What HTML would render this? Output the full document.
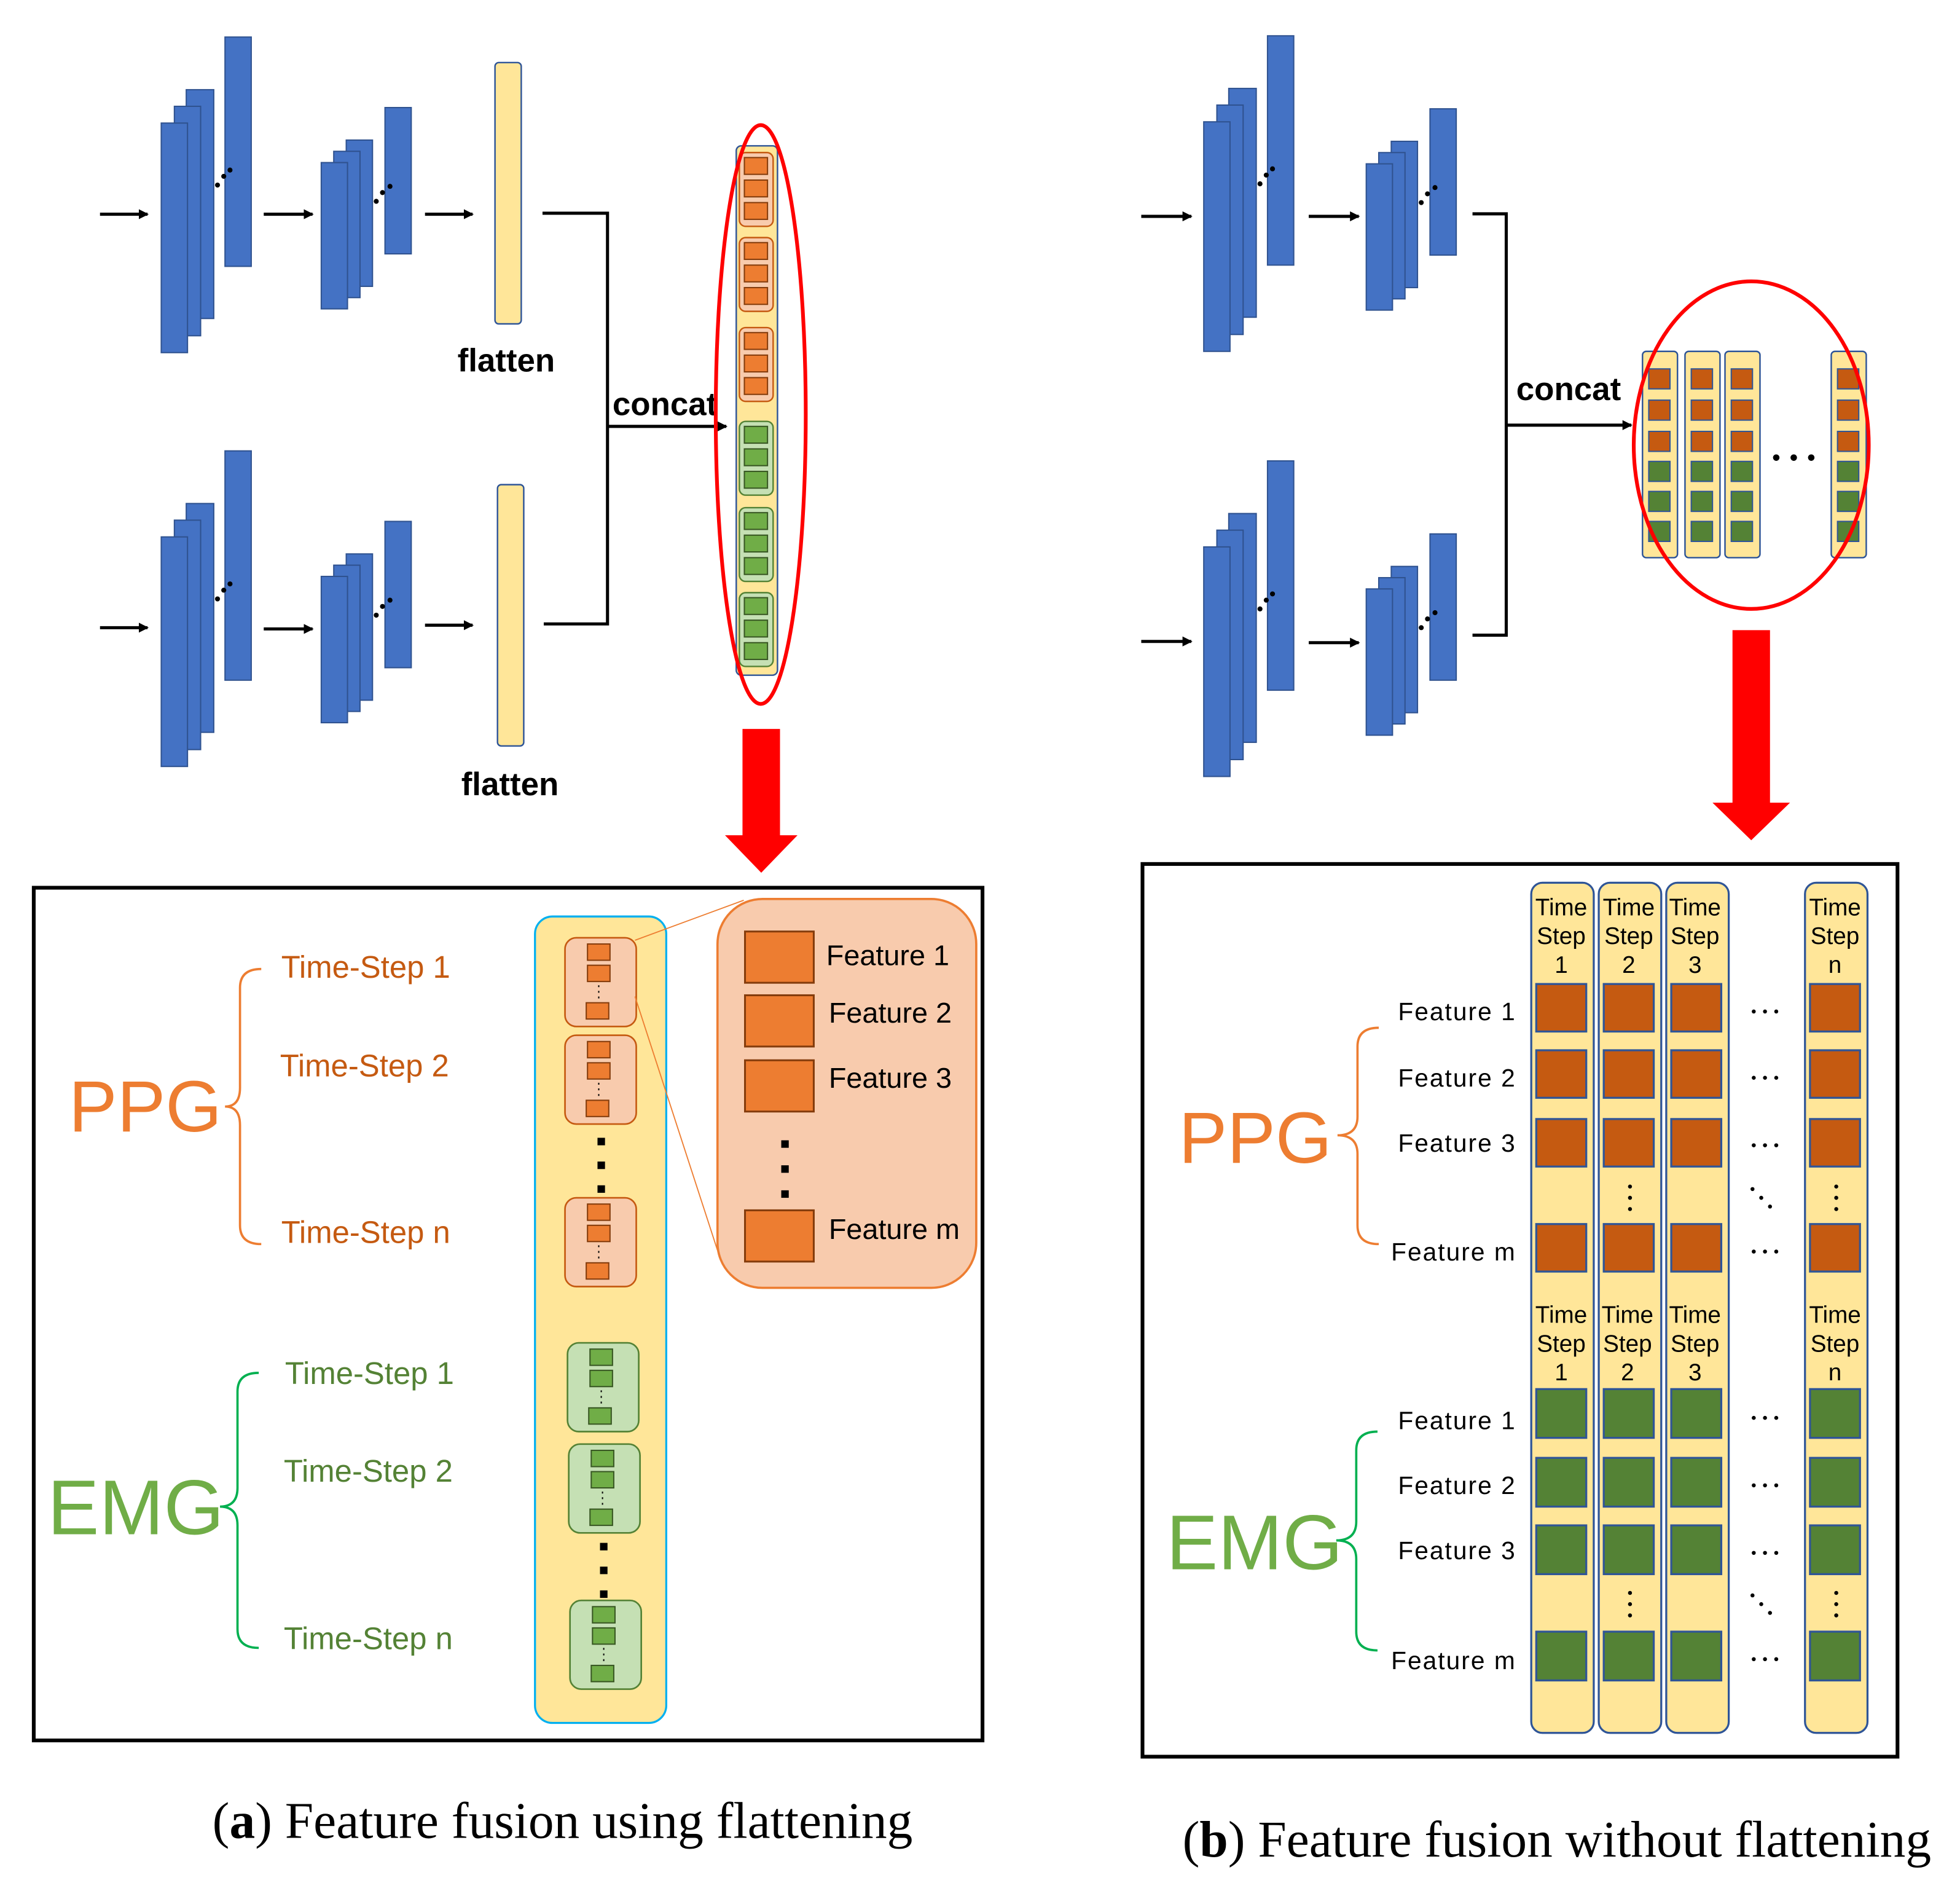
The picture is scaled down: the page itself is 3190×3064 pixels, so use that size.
<!DOCTYPE html>
<html><head><meta charset="utf-8"><style>
html,body{margin:0;padding:0;background:#fff;}
svg{display:block;}
text{font-family:"Liberation Sans",sans-serif;}
</style></head><body>
<svg width="3190" height="3064" viewBox="0 0 1568 1506" xmlns="http://www.w3.org/2000/svg">
<defs>
<marker id="ah" markerWidth="8" markerHeight="8" refX="7" refY="4" orient="auto" markerUnits="userSpaceOnUse"><path d="M0,0 L8,4 L0,8 z" fill="#000"/></marker>
<g id="cnnA">
<rect x="149" y="71.7" width="22" height="183" fill="#4472c4" stroke="#2f528f" stroke-width="1"/>
<rect x="139.5" y="85" width="21" height="183.5" fill="#4472c4" stroke="#2f528f" stroke-width="1"/>
<rect x="129" y="98.4" width="21" height="183.6" fill="#4472c4" stroke="#2f528f" stroke-width="1"/>
<rect x="180" y="29.6" width="21" height="183.4" fill="#4472c4" stroke="#2f528f" stroke-width="1"/>
<circle cx="174" cy="148" r="2"/><circle cx="179" cy="141" r="2"/><circle cx="184" cy="136" r="2"/>
</g>
<g id="cnnB">
<rect x="277" y="112" width="21" height="117" fill="#4472c4" stroke="#2f528f" stroke-width="1"/>
<rect x="267" y="121" width="21" height="117" fill="#4472c4" stroke="#2f528f" stroke-width="1"/>
<rect x="257" y="130" width="21" height="117" fill="#4472c4" stroke="#2f528f" stroke-width="1"/>
<rect x="308" y="86" width="21" height="117" fill="#4472c4" stroke="#2f528f" stroke-width="1"/>
<circle cx="301" cy="161" r="2"/><circle cx="306" cy="154" r="2"/><circle cx="312" cy="149" r="2"/>
</g>
<g id="og">
<rect x="591.5" y="0" width="27" height="59" rx="5" fill="#f8cbad" stroke="#c55a11" stroke-width="1.2"/>
<rect x="595.5" y="4" width="18.5" height="13.4" fill="#ed7d31" stroke="#843c0c" stroke-width="1"/>
<rect x="595.5" y="22" width="18.5" height="13.4" fill="#ed7d31" stroke="#843c0c" stroke-width="1"/>
<rect x="595.5" y="40" width="18.5" height="13.4" fill="#ed7d31" stroke="#843c0c" stroke-width="1"/>
</g>
<g id="gg">
<rect x="591.5" y="0" width="27" height="59" rx="5" fill="#c5e0b4" stroke="#548235" stroke-width="1.2"/>
<rect x="595.5" y="4" width="18.5" height="13.4" fill="#70ad47" stroke="#385723" stroke-width="1"/>
<rect x="595.5" y="22" width="18.5" height="13.4" fill="#70ad47" stroke="#385723" stroke-width="1"/>
<rect x="595.5" y="40" width="18.5" height="13.4" fill="#70ad47" stroke="#385723" stroke-width="1"/>
</g>
<g id="oga">
<rect x="0" y="0" width="57" height="71" rx="9" fill="#f8cbad" stroke="#c55a11" stroke-width="1.3"/>
<rect x="18" y="5" width="18" height="13" fill="#ed7d31" stroke="#843c0c" stroke-width="1"/>
<rect x="18" y="22" width="18" height="13" fill="#ed7d31" stroke="#843c0c" stroke-width="1"/>
<line x1="27" y1="38" x2="27" y2="50" stroke="#000" stroke-width="1" stroke-dasharray="1.5,3"/>
<rect x="17" y="52" width="18" height="13" fill="#ed7d31" stroke="#843c0c" stroke-width="1"/>
</g>
<g id="gga">
<rect x="0" y="0" width="57" height="71" rx="9" fill="#c5e0b4" stroke="#548235" stroke-width="1.3"/>
<rect x="18" y="5" width="18" height="13" fill="#70ad47" stroke="#385723" stroke-width="1"/>
<rect x="18" y="22" width="18" height="13" fill="#70ad47" stroke="#385723" stroke-width="1"/>
<line x1="27" y1="38" x2="27" y2="50" stroke="#000" stroke-width="1" stroke-dasharray="1.5,3"/>
<rect x="17" y="52" width="18" height="13" fill="#70ad47" stroke="#385723" stroke-width="1"/>
</g>
<g id="bcol">
<rect x="1314" y="281" width="28" height="165" rx="3" fill="#ffe699" stroke="#2f5597" stroke-width="1.2"/>
<rect x="1319" y="295" width="17" height="16" fill="#c55a11" stroke="#2f5597" stroke-width="1"/>
<rect x="1319" y="320" width="17" height="16" fill="#c55a11" stroke="#2f5597" stroke-width="1"/>
<rect x="1319" y="345" width="17" height="16" fill="#c55a11" stroke="#2f5597" stroke-width="1"/>
<rect x="1319" y="369" width="17" height="16" fill="#548235" stroke="#2f5597" stroke-width="1"/>
<rect x="1319" y="393" width="17" height="16" fill="#548235" stroke="#2f5597" stroke-width="1"/>
<rect x="1319" y="417" width="17" height="16" fill="#548235" stroke="#2f5597" stroke-width="1"/>
</g>
<g id="bigcol">
<rect x="1225" y="706" width="50" height="680" rx="9" fill="#ffe699" stroke="#2f5597" stroke-width="1.6"/>
<rect x="1229" y="787" width="40" height="38" fill="#c55a11" stroke="#2f5597" stroke-width="1.6"/>
<rect x="1229" y="840" width="40" height="38" fill="#c55a11" stroke="#2f5597" stroke-width="1.6"/>
<rect x="1229" y="895" width="40" height="38" fill="#c55a11" stroke="#2f5597" stroke-width="1.6"/>
<rect x="1229" y="979" width="40" height="38" fill="#c55a11" stroke="#2f5597" stroke-width="1.6"/>
<rect x="1229" y="1111" width="40" height="39" fill="#548235" stroke="#2f5597" stroke-width="1.6"/>
<rect x="1229" y="1166" width="40" height="39" fill="#548235" stroke="#2f5597" stroke-width="1.6"/>
<rect x="1229" y="1220" width="40" height="39" fill="#548235" stroke="#2f5597" stroke-width="1.6"/>
<rect x="1229" y="1305" width="40" height="39" fill="#548235" stroke="#2f5597" stroke-width="1.6"/>
</g>
</defs>

<!-- ===== Panel a top ===== -->
<g stroke="#000" stroke-width="2.5" fill="none">
<line x1="80" y1="171.3" x2="118" y2="171.3" marker-end="url(#ah)"/>
<line x1="211" y1="171.3" x2="250" y2="171.3" marker-end="url(#ah)"/>
<line x1="340" y1="171.3" x2="378" y2="171.3" marker-end="url(#ah)"/>
<line x1="80" y1="502" x2="118" y2="502" marker-end="url(#ah)"/>
<line x1="211" y1="503" x2="250" y2="503" marker-end="url(#ah)"/>
<line x1="340" y1="500" x2="378" y2="500" marker-end="url(#ah)"/>
<polyline points="434,170.5 486,170.5 486,499 435,499"/>
<line x1="486" y1="341" x2="581" y2="341" marker-end="url(#ah)"/>
</g>
<use href="#cnnA"/>
<use href="#cnnB"/>
<use href="#cnnA" transform="translate(0,331)"/>
<use href="#cnnB" transform="translate(0,331)"/>
<rect x="396" y="50" width="21" height="209" rx="3" fill="#ffe699" stroke="#2f5597" stroke-width="1.2"/>
<rect x="398" y="387.6" width="21" height="209" rx="3" fill="#ffe699" stroke="#2f5597" stroke-width="1.2"/>
<text x="366" y="297" font-size="26" font-weight="bold">flatten</text>
<text x="369" y="636" font-size="26" font-weight="bold">flatten</text>
<text x="490" y="332" font-size="26" font-weight="bold">concat</text>

<rect x="589" y="116.6" width="33" height="423.4" rx="4" fill="#ffe699" stroke="#2f5597" stroke-width="1.2"/>
<use href="#og" transform="translate(0,122)"/>
<use href="#og" transform="translate(0,190)"/>
<use href="#og" transform="translate(0,262)"/>
<use href="#gg" transform="translate(0,337)"/>
<use href="#gg" transform="translate(0,406)"/>
<use href="#gg" transform="translate(0,474)"/>
<ellipse cx="608.6" cy="331.5" rx="36" ry="231.5" fill="none" stroke="#ff0000" stroke-width="3"/>
<path d="M594,583 H624 V668 H638 L609,698 L580,668 H594 Z" fill="#ff0000"/>

<!-- ===== Panel a box ===== -->
<rect x="27" y="710" width="759" height="682" fill="none" stroke="#000" stroke-width="3"/>
<text x="55" y="905" font-size="58" fill="#ed7d31">PPG</text>
<g font-size="25" fill="#c55a11">
<text x="225" y="782">Time-Step 1</text>
<text x="224" y="861">Time-Step 2</text>
<text x="225" y="994">Time-Step n</text>
</g>
<path d="M209,775 Q192,775 192,790 L192,870 Q192,885 180,885 Q192,885 192,900 L192,980 Q192,995 209,995" fill="none" stroke="#ed7d31" stroke-width="1.8"/>
<text x="38" y="1227" font-size="62" fill="#70ad47">EMG</text>
<g font-size="25" fill="#548235">
<text x="228" y="1107">Time-Step 1</text>
<text x="227" y="1185">Time-Step 2</text>
<text x="227" y="1319">Time-Step n</text>
</g>
<path d="M207,1098 Q190,1098 190,1113 L190,1190 Q190,1205 176,1205 Q190,1205 190,1220 L190,1303 Q190,1318 207,1318" fill="none" stroke="#00b050" stroke-width="1.8"/>

<rect x="428" y="733" width="105" height="645" rx="14" fill="#ffe699" stroke="#00b0f0" stroke-width="1.6"/>
<use href="#oga" transform="translate(452,750)"/>
<use href="#oga" transform="translate(452,828)"/>
<use href="#oga" transform="translate(452,958)"/>
<rect x="478" y="910" width="6" height="6"/><rect x="478" y="929" width="6" height="6"/><rect x="478" y="948" width="6" height="6"/>
<use href="#gga" transform="translate(454,1074)"/>
<use href="#gga" transform="translate(455,1155)"/>
<use href="#gga" transform="translate(456,1280)"/>
<rect x="480" y="1234" width="6" height="6"/><rect x="480" y="1253" width="6" height="6"/><rect x="480" y="1272" width="6" height="6"/>

<rect x="574" y="719" width="207" height="311" rx="36" fill="#f8cbad" stroke="#ed7d31" stroke-width="1.8"/>
<line x1="508" y1="752" x2="595" y2="720" stroke="#ed7d31" stroke-width="0.9"/>
<line x1="508" y1="797" x2="574" y2="1000" stroke="#ed7d31" stroke-width="0.9"/>
<g fill="#ed7d31" stroke="#843c0c" stroke-width="1.5">
<rect x="596" y="745" width="55" height="41"/>
<rect x="596" y="796" width="55" height="41"/>
<rect x="596" y="848" width="55" height="41"/>
<rect x="596" y="968" width="55" height="41"/>
</g>
<rect x="625" y="912" width="6" height="6"/><rect x="625" y="932" width="6" height="6"/><rect x="625" y="952" width="6" height="6"/>
<g font-size="23">
<text x="661" y="772">Feature 1</text>
<text x="663" y="818">Feature 2</text>
<text x="663" y="870">Feature 3</text>
<text x="663" y="991">Feature m</text>
</g>
<text x="450" y="1470" font-size="41" text-anchor="middle" style="font-family:'Liberation Serif',serif">(<tspan font-weight="bold">a</tspan>) Feature fusion using flattening</text>

<!-- ===== Panel b top ===== -->
<g stroke="#000" stroke-width="2.5" fill="none">
<line x1="913" y1="173" x2="953" y2="173" marker-end="url(#ah)"/>
<line x1="1047" y1="173" x2="1087" y2="173" marker-end="url(#ah)"/>
<line x1="913" y1="513" x2="953" y2="513" marker-end="url(#ah)"/>
<line x1="1047" y1="514" x2="1087" y2="514" marker-end="url(#ah)"/>
<polyline points="1178,171 1205,171 1205,508 1178,508"/>
<line x1="1205" y1="340" x2="1305" y2="340" marker-end="url(#ah)"/>
</g>
<use href="#cnnA" transform="translate(834,-1)"/>
<use href="#cnnB" transform="translate(836,1)"/>
<use href="#cnnA" transform="translate(834,339)"/>
<use href="#cnnB" transform="translate(836,341)"/>
<text x="1213" y="320" font-size="26" font-weight="bold">concat</text>
<use href="#bcol"/>
<use href="#bcol" transform="translate(34,0)"/>
<use href="#bcol" transform="translate(66,0)"/>
<use href="#bcol" transform="translate(151,0)"/>
<circle cx="1421" cy="366" r="2.6"/><circle cx="1435" cy="366" r="2.6"/><circle cx="1449" cy="366" r="2.6"/>
<ellipse cx="1401" cy="356" rx="94" ry="131" fill="none" stroke="#ff0000" stroke-width="3"/>
<path d="M1386,504 H1416 V642 H1432 L1401,672 L1370,642 H1386 Z" fill="#ff0000"/>

<!-- ===== Panel b box ===== -->
<rect x="914" y="691" width="604" height="714" fill="none" stroke="#000" stroke-width="3"/>
<use href="#bigcol"/>
<use href="#bigcol" transform="translate(54,0)"/>
<use href="#bigcol" transform="translate(108,0)"/>
<use href="#bigcol" transform="translate(219,0)"/>
<g font-size="19" text-anchor="middle">
<text x="1249" y="732">Time</text><text x="1249" y="755">Step</text><text x="1249" y="778">1</text>
<text x="1303" y="732">Time</text><text x="1303" y="755">Step</text><text x="1303" y="778">2</text>
<text x="1356" y="732">Time</text><text x="1356" y="755">Step</text><text x="1356" y="778">3</text>
<text x="1468" y="732">Time</text><text x="1468" y="755">Step</text><text x="1468" y="778">n</text>
<text x="1249" y="1058">Time</text><text x="1249" y="1081">Step</text><text x="1249" y="1104">1</text>
<text x="1302" y="1058">Time</text><text x="1302" y="1081">Step</text><text x="1302" y="1104">2</text>
<text x="1356" y="1058">Time</text><text x="1356" y="1081">Step</text><text x="1356" y="1104">3</text>
<text x="1468" y="1058">Time</text><text x="1468" y="1081">Step</text><text x="1468" y="1104">n</text>
</g>
<g font-size="20" text-anchor="end" letter-spacing="1">
<text x="1213" y="816">Feature  1</text>
<text x="1213" y="869">Feature  2</text>
<text x="1213" y="921">Feature  3</text>
<text x="1213" y="1008">Feature  m</text>
<text x="1213" y="1143">Feature  1</text>
<text x="1213" y="1195">Feature  2</text>
<text x="1213" y="1247">Feature  3</text>
<text x="1213" y="1335">Feature  m</text>
</g>
<g fill="#000">
<g id="hd"><circle cx="1403" cy="809" r="1.6"/><circle cx="1412" cy="809" r="1.6"/><circle cx="1421" cy="809" r="1.6"/></g>
<use href="#hd" transform="translate(0,53)"/>
<use href="#hd" transform="translate(0,107)"/>
<use href="#hd" transform="translate(0,192)"/>
<use href="#hd" transform="translate(0,325)"/>
<use href="#hd" transform="translate(0,379)"/>
<use href="#hd" transform="translate(0,433)"/>
<use href="#hd" transform="translate(0,518)"/>
<g id="vd"><circle cx="1304" cy="949" r="1.6"/><circle cx="1304" cy="958" r="1.6"/><circle cx="1304" cy="967" r="1.6"/>
<circle cx="1469" cy="949" r="1.6"/><circle cx="1469" cy="958" r="1.6"/><circle cx="1469" cy="967" r="1.6"/>
<circle cx="1402" cy="951" r="1.6"/><circle cx="1409" cy="958" r="1.6"/><circle cx="1416" cy="965" r="1.6"/></g>
<use href="#vd" transform="translate(0,325)"/>
</g>
<text x="943" y="930" font-size="58" fill="#ed7d31">PPG</text>
<path d="M1103,822 Q1086,822 1086,837 L1086,893 Q1086,908 1070,908 Q1086,908 1086,923 L1086,980 Q1086,995 1103,995" fill="none" stroke="#ed7d31" stroke-width="1.8"/>
<text x="933" y="1255" font-size="62" fill="#70ad47">EMG</text>
<path d="M1102,1145 Q1085,1145 1085,1160 L1085,1217 Q1085,1232 1069,1232 Q1085,1232 1085,1247 L1085,1305 Q1085,1320 1102,1320" fill="none" stroke="#00b050" stroke-width="1.8"/>
<text x="946" y="1485" font-size="41" style="font-family:'Liberation Serif',serif">(<tspan font-weight="bold">b</tspan>) Feature fusion without flattening</text>
</svg>
</body></html>
